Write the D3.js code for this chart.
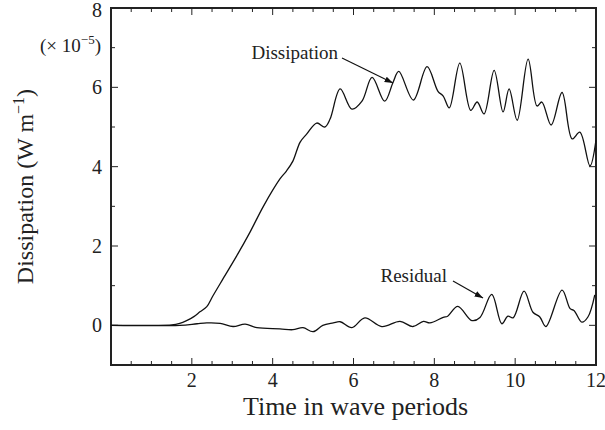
<!DOCTYPE html>
<html>
<head>
<meta charset="utf-8">
<script src="https://cdn.jsdelivr.net/npm/d3@7"></script>
<style>
  body { margin: 0; background: #fff; }
  text { font-family: "Liberation Serif", "Times New Roman", serif; fill: #222; }
</style>
</head>
<body>
<div id="chart"></div>
<script>
// values, in units of 1e-5 W/m
var dissX = [0, 1.0, 1.5, 1.7, 1.87, 2.05, 2.2, 2.37, 2.52, 2.77, 3.11, 3.44, 3.77, 4.18, 4.34, 4.5, 4.68, 4.84, 5.09, 5.29, 5.42, 5.67, 5.96, 6.21, 6.46, 6.77, 6.98, 7.12, 7.48, 7.82, 8.09, 8.22, 8.37, 8.63, 8.9, 9.06, 9.23, 9.48, 9.7, 9.85, 10.05, 10.32, 10.54, 10.66, 10.89, 11.16, 11.41, 11.6, 11.85, 12];
var dissY = [0, 0, 0.01, 0.05, 0.12, 0.22, 0.34, 0.47, 0.74, 1.17, 1.75, 2.35, 3.0, 3.69, 3.89, 4.14, 4.62, 4.82, 5.1, 5.0, 5.2, 5.96, 5.45, 5.65, 6.25, 5.65, 6.13, 6.4, 5.68, 6.52, 5.9, 5.78, 5.48, 6.61, 5.42, 5.63, 5.33, 6.43, 5.38, 5.96, 5.17, 6.71, 5.53, 5.63, 5.05, 5.87, 4.7, 4.87, 4.02, 4.67];

var resX = [0, 1.7, 2.13, 2.37, 2.7, 3.02, 3.32, 3.61, 4.18, 4.5, 4.75, 5.0, 5.24, 5.5, 5.67, 5.96, 6.28, 6.7, 7.15, 7.47, 7.73, 7.89, 8.22, 8.33, 8.58, 8.93, 9.13, 9.42, 9.67, 9.82, 9.95, 10.22, 10.44, 10.61, 10.76, 11.16, 11.36, 11.46, 11.65, 11.8, 11.97];
var resY = [0, 0, 0.04, 0.06, 0.05, -0.03, 0.03, -0.06, -0.09, -0.11, -0.06, -0.16, 0, 0.06, 0.09, -0.06, 0.19, -0.03, 0.1, -0.03, 0.1, 0.06, 0.2, 0.23, 0.48, 0.12, 0.2, 0.78, 0.04, 0.23, 0.19, 0.86, 0.33, 0.21, -0.03, 0.89, 0.42, 0.37, 0.08, 0.21, 0.77];

var xTicks = [2, 4, 6, 8, 10, 12];
var yTicks = [0, 2, 4, 6, 8];

var width = 605,
    height = 430;
var margin = {top: 8, right: 9, bottom: 65, left: 111};

var svg = d3.select("#chart").append("svg")
    .attr("width", width)
    .attr("height", height);

var x = d3.scaleLinear().domain([0, 12]).range([margin.left, width - margin.right]);
var y = d3.scaleLinear().domain([-1, 8]).range([height - margin.bottom, margin.top]);

var x0 = x.range()[0], x1 = x.range()[1],
    y0 = y.range()[0], y1 = y.range()[1];

// ticks, all pointing inward, on the four sides
var xMinor = d3.range(0.5, 12, 0.5);
var yMinor = d3.range(-1, 8, 1);

var tickG = svg.append("g").attr("stroke", "#222").attr("stroke-width", 1);

xMinor.forEach(function(v) {
	var len = (v % 2 == 0) ? 7 : 4;
	tickG.append("line").attr("x1", x(v)).attr("x2", x(v)).attr("y1", y0).attr("y2", y0 - len);
	tickG.append("line").attr("x1", x(v)).attr("x2", x(v)).attr("y1", y1).attr("y2", y1 + len);
});
yMinor.forEach(function(v) {
	var len = (v % 2 == 0) ? 7 : 4;
	tickG.append("line").attr("x1", x0).attr("x2", x0 + len).attr("y1", y(v)).attr("y2", y(v));
	tickG.append("line").attr("x1", x1).attr("x2", x1 - len).attr("y1", y(v)).attr("y2", y(v));
});

// frame
svg.append("rect")
    .attr("x", x0).attr("y", y1)
    .attr("width", x1 - x0).attr("height", y0 - y1)
    .attr("fill", "none")
    .attr("stroke", "#222")
    .attr("stroke-width", 2);

// tick labels
svg.append("g").selectAll("text")
    .data(xTicks)
    .enter().append("text")
    .attr("x", d => x(d))
    .attr("y", y0 + 22)
    .attr("text-anchor", "middle")
    .style("font-size", "20px")
    .text(d => d);

svg.append("g").selectAll("text")
    .data(yTicks)
    .enter().append("text")
    .attr("x", x0 - 9)
    .attr("y", d => Math.max(y(d) + 7, 17))
    .attr("text-anchor", "end")
    .style("font-size", "20px")
    .text(d => d);

// scale factor
var sf = svg.append("text")
    .attr("x", x0 - 10)
    .attr("y", 52)
    .attr("text-anchor", "end")
    .style("font-size", "19px");
sf.append("tspan").text("(\u00d7 10");
sf.append("tspan").attr("dy", -8).style("font-size", "13px").text("\u22125");
sf.append("tspan").attr("dy", 8).text(")");

// axis titles
svg.append("text")
    .attr("x", (x0 + x1) / 2 + 2)
    .attr("y", 415)
    .attr("text-anchor", "middle")
    .style("font-size", "26px")
    .text("Time in wave periods");

var yl = svg.append("text")
    .attr("transform", "translate(33," + ((y0 + y1) / 2) + ") rotate(-90)")
    .attr("text-anchor", "middle")
    .style("font-size", "24px");
yl.append("tspan").text("Dissipation (W m");
yl.append("tspan").attr("dy", -9).style("font-size", "16px").text("\u22121");
yl.append("tspan").attr("dy", 9).text(")");

// curves
var line = d3.line()
    .x(d => x(d[0]))
    .y(d => y(d[1]))
    .curve(d3.curveCatmullRom.alpha(0.5));

svg.append("path")
    .datum(d3.zip(dissX, dissY))
    .attr("d", line)
    .attr("fill", "none")
    .attr("stroke", "#111")
    .attr("stroke-width", 1.3);

svg.append("path")
    .datum(d3.zip(resX, resY))
    .attr("d", line)
    .attr("fill", "none")
    .attr("stroke", "#111")
    .attr("stroke-width", 1.3);

// annotations
svg.append("defs").append("marker")
    .attr("id", "arrow")
    .attr("viewBox", "0 0 10 10")
    .attr("refX", 10).attr("refY", 5)
    .attr("markerWidth", 7).attr("markerHeight", 7)
    .attr("orient", "auto")
  .append("path")
    .attr("d", "M0,1.5L10,5L0,8.5Z")
    .attr("fill", "#111");

svg.append("text")
    .attr("x", 338).attr("y", 59)
    .attr("text-anchor", "end")
    .style("font-size", "19px")
    .text("Dissipation");

svg.append("line")
    .attr("x1", 342).attr("y1", 58)
    .attr("x2", 393).attr("y2", 83)
    .attr("stroke", "#111").attr("stroke-width", 1.2)
    .attr("marker-end", "url(#arrow)");

svg.append("text")
    .attr("x", 447).attr("y", 282)
    .attr("text-anchor", "end")
    .style("font-size", "19px")
    .text("Residual");

svg.append("line")
    .attr("x1", 453).attr("y1", 281)
    .attr("x2", 483).attr("y2", 298)
    .attr("stroke", "#111").attr("stroke-width", 1.2)
    .attr("marker-end", "url(#arrow)");
</script>
</body>
</html>
